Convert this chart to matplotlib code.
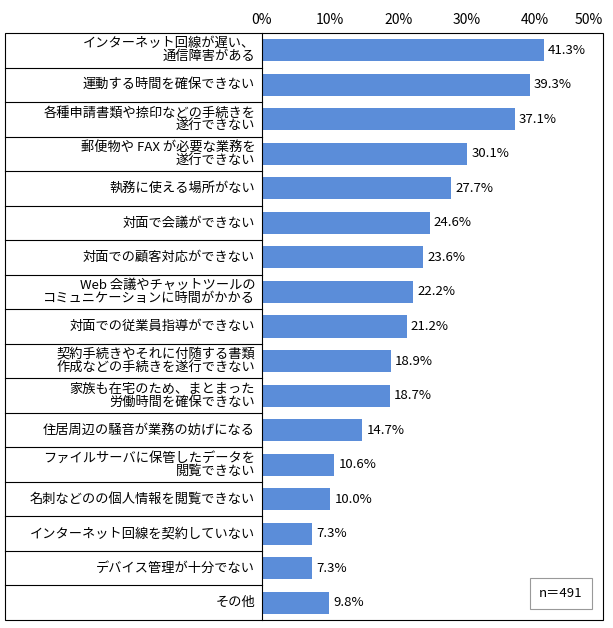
import matplotlib
matplotlib.use("Agg")
import matplotlib.pyplot as plt
from matplotlib.patches import Rectangle

plt.rcParams['font.family'] = ['Noto Sans CJK JP', 'DejaVu Sans']

labels = [
    "インターネット回線が遅い、\n通信障害がある",
    "運動する時間を確保できない",
    "各種申請書類や捺印などの手続きを\n遂行できない",
    "郵便物や FAX が必要な業務を\n遂行できない",
    "執務に使える場所がない",
    "対面で会議ができない",
    "対面での顧客対応ができない",
    "Web 会議やチャットツールの\nコミュニケーションに時間がかかる",
    "対面での従業員指導ができない",
    "契約手続きやそれに付随する書類\n作成などの手続きを遂行できない",
    "家族も在宅のため、まとまった\n労働時間を確保できない",
    "住居周辺の騒音が業務の妨げになる",
    "ファイルサーバに保管したデータを\n閲覧できない",
    "名刺などのの個人情報を閲覧できない",
    "インターネット回線を契約していない",
    "デバイス管理が十分でない",
    "その他",
]
values = [41.3, 39.3, 37.1, 30.1, 27.7, 24.6, 23.6, 22.2, 21.2, 18.9, 18.7,
          14.7, 10.6, 10.0, 7.3, 7.3, 9.8]
ticks = [0, 10, 20, 30, 40, 50]

fig = plt.figure(figsize=(6.13, 6.28), dpi=100)
ax = fig.add_axes([262/613, 1 - 620/628, 341/613, 587/628])
n = len(values)
ypos = list(range(n))
ax.barh(ypos, values, height=0.64, color='#5B8DD9')
ax.set_ylim(n - 0.5, -0.5)
ax.set_xlim(0, 50)
ax.xaxis.tick_top()
ax.set_xticks(ticks)
ax.set_xticklabels([f"{t}%" for t in ticks], fontsize=10)
ax.get_xticklabels()[-1].set_horizontalalignment('right')
ax.tick_params(axis='x', length=0, pad=4)
ax.set_yticks([])
for s in ['top', 'right', 'bottom']:
    ax.spines[s].set_visible(False)
ax.spines['left'].set_color('black')

for y, v in zip(ypos, values):
    ax.text(v + 0.6, y, f"{v:.1f}%", va='center', ha='left', fontsize=9.5)

left = (5 - 262) / 341
for i, lab in enumerate(labels):
    ax.text(-0.02, i, lab, transform=ax.get_yaxis_transform(), ha='right',
            va='center', fontsize=9.5, linespacing=1.0)
for i in range(1, n):
    ax.plot([left, 0], [i - 0.5, i - 0.5], transform=ax.get_yaxis_transform(),
            color='black', lw=0.8, clip_on=False)

ax.add_patch(Rectangle((left, 0), 1 - left, 1, transform=ax.transAxes,
                       fill=False, edgecolor='black', lw=0.8, clip_on=False))

ax.text(0.94, 0.045, "n＝491", transform=ax.transAxes, ha='right', va='center',
        fontsize=9.5, bbox=dict(boxstyle='square,pad=0.7', fc='white',
                                ec='#999999', lw=0.8))

fig.savefig("out.png", dpi=100)
